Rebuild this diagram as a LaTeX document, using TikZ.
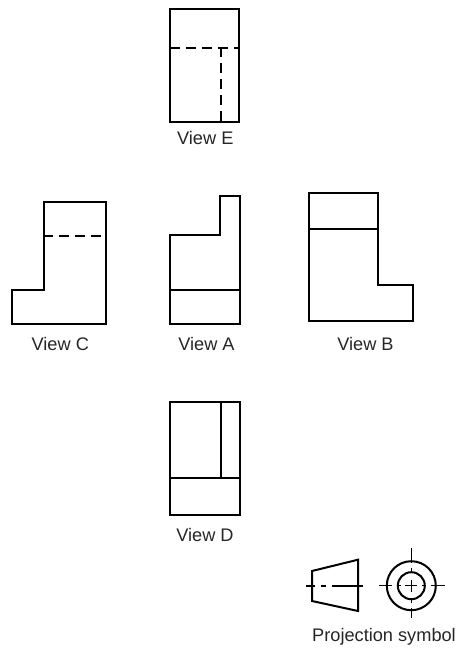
\documentclass[tikz,border=0pt]{standalone}
\usepackage{fontspec}
\setmainfont{Liberation Sans}
\tikzset{
  obj/.style={line width=2pt,line join=miter,draw=black},
  hid/.style={line width=2pt,draw=black,dash pattern=on 10pt off 6pt},
  thin line/.style={line width=1.5pt,draw=black},
  lab/.style={font=\fontsize{18.2pt}{20pt}\selectfont,text=black!85,inner sep=0pt,anchor=base}
}
\begin{document}
\begin{tikzpicture}[x=1pt,y=-1pt]
\useasboundingbox (0,0) rectangle (461,648);
% View E
\draw[obj] (169.5,8.5) rectangle (239,122);
\draw[hid] (169.5,48.3) -- (239,48.3);
\draw[hid,dash phase=1pt] (221,48.3) -- (221,122);
\node[lab] (e) at (205.3,144) {View E};
% View C
\draw[obj] (44,202) -- (105.5,202) -- (105.5,324) -- (12,324) -- (12,289.5) -- (44,289.5) -- cycle;
\draw[hid,dash phase=1pt] (44,236.2) -- (105.5,236.2);
\node[lab] (c) at (60.3,350) {View C};
% View A
\draw[obj] (220,195.5) -- (240,195.5) -- (240,324) -- (169.5,324) -- (169.5,234.5) -- (220,234.5) -- cycle;
\draw[obj] (169.5,290) -- (240,290);
\node[lab] (a) at (206.5,350) {View A};
% View B
\draw[obj] (308.5,193) -- (378,193) -- (378,285) -- (412.5,285) -- (412.5,321) -- (308.5,321) -- cycle;
\draw[obj] (308.5,229) -- (378,229);
\node[lab] (b) at (365.5,350) {View B};
% View D
\draw[obj] (170,402) rectangle (239.5,515);
\draw[obj] (170,478) -- (239.5,478);
\draw[obj] (221,402) -- (221,478);
\node[lab] (d) at (205,541) {View D};
% Symbol
\draw[obj] (312,571) -- (358,559.7) -- (358,611) -- (312,601) -- cycle;
\draw[thin line] (306,586) -- (315,586) (320.5,586) -- (326,586) (331.5,586) -- (363,586);
\draw[obj] (411.3,585.7) circle (24.5);
\draw[obj] (411.3,585.7) circle (13.5);
\draw[thin line] (411.3,548.3) -- (411.3,563) (411.3,568) -- (411.3,573) (411.3,579.7) -- (411.3,591.7) (411.3,598.5) -- (411.3,603) (411.3,608) -- (411.3,617.7);
\draw[thin line] (379,585.7) -- (392,585.7) (397,585.7) -- (401,585.7) (405.3,585.7) -- (417.3,585.7) (422,585.7) -- (426,585.7) (431,585.7) -- (445.3,585.7);
\node[lab] (p) at (384,641.5) {Projection symbol};
\end{tikzpicture}
\end{document}
